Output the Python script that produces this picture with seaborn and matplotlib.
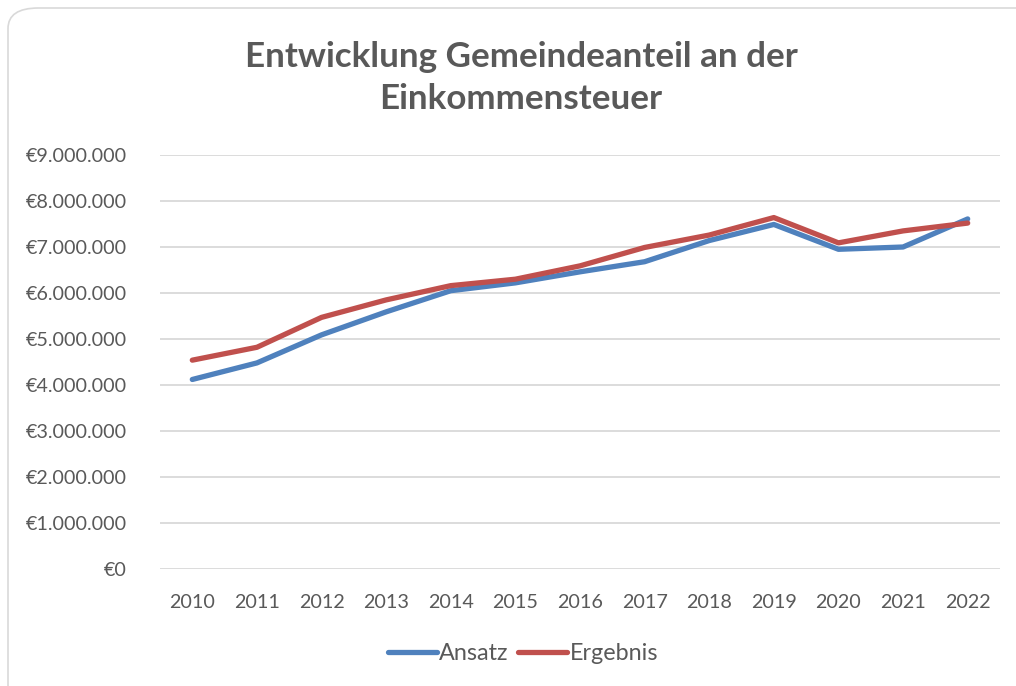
import numpy as np
import pandas as pd
import matplotlib
matplotlib.use("Agg")
import matplotlib.pyplot as plt
from matplotlib.patches import FancyBboxPatch
from matplotlib.ticker import FuncFormatter
import seaborn as sns

# Werte aus dem Bild geschätzt
jahre = [str(j) for j in range(2010, 2023)]
ansatz = [4.12e6, 4.48e6, 5.09e6, 5.59e6, 6.05e6, 6.22e6, 6.46e6,
          6.68e6, 7.14e6, 7.49e6, 6.95e6, 7.00e6, 7.61e6]
ergebnis = [4.54e6, 4.82e6, 5.47e6, 5.85e6, 6.16e6, 6.30e6, 6.59e6,
            6.99e6, 7.26e6, 7.64e6, 7.09e6, 7.35e6, 7.52e6]
serien = ["Ansatz", "Ergebnis"]
farben = ["#4F81BD", "#C0504D"]
titel = "Entwicklung Gemeindeanteil an der\nEinkommensteuer"

df = pd.DataFrame({"Jahr": jahre * 2,
                   "Wert": ansatz + ergebnis,
                   "Serie": [serien[0]] * len(jahre) + [serien[1]] * len(jahre)})
df["pos"] = df["Jahr"].map({j: i for i, j in enumerate(jahre)})

sns.set_theme(style="white")
plt.rcParams["font.family"] = ["Lato", "DejaVu Sans"]
grau = "#595959"

fig = plt.figure(figsize=(10.16, 6.86), dpi=100)
W, H = 1016, 686

# abgerundeter Rahmen
rahmen = FancyBboxPatch((8 / W, -20 / H), 1040 / W, 698 / H,
                        boxstyle="round,pad=0,rounding_size=0.03",
                        transform=fig.transFigure, facecolor="none",
                        edgecolor="#D9D9D9", linewidth=1.2, zorder=-1)
fig.patches.append(rahmen)

ax = fig.add_axes([160 / W, (H - 569) / H, 840 / W, 414 / H])
ax.set_facecolor("none")
sns.lineplot(data=df, x="pos", y="Wert", hue="Serie", palette=farben,
             linewidth=3.8, ax=ax, legend=False, zorder=3)

ax.set_xlim(-0.5, len(jahre) - 0.5)
ax.set_ylim(0, 9e6)
ax.set_yticks(np.arange(0, 9.5e6, 1e6))
ax.set_xticks(range(len(jahre)))
ax.set_xticklabels(jahre)
ax.yaxis.set_major_formatter(FuncFormatter(
    lambda v, p: "€" + f"{int(v):,}".replace(",", ".")))
ax.grid(axis="y", color="#D9D9D9", linewidth=1.3)
ax.grid(axis="x", visible=False)
for s in ax.spines.values():
    s.set_visible(False)
ax.tick_params(axis="both", length=0, labelsize=14.2, colors=grau)
ax.tick_params(axis="x", pad=18)
ax.tick_params(axis="y", pad=24)
ax.set_xlabel("")
ax.set_ylabel("")

fig.text(521 / W, 1 - 78 / H, titel, ha="center", va="center", fontsize=25.2,
         fontweight="bold", color=grau, linespacing=1.42)

handles = [plt.Line2D([], [], color=c, linewidth=3.8) for c in farben]
leg = fig.legend(handles, serien, loc="center", bbox_to_anchor=(523 / W, 1 - 654 / H),
                 ncol=2, frameon=False, fontsize=16.8, handlelength=2.1,
                 handletextpad=0.1, columnspacing=0.4)
for t in leg.get_texts():
    t.set_color(grau)

fig.savefig("out.png", dpi=100)
